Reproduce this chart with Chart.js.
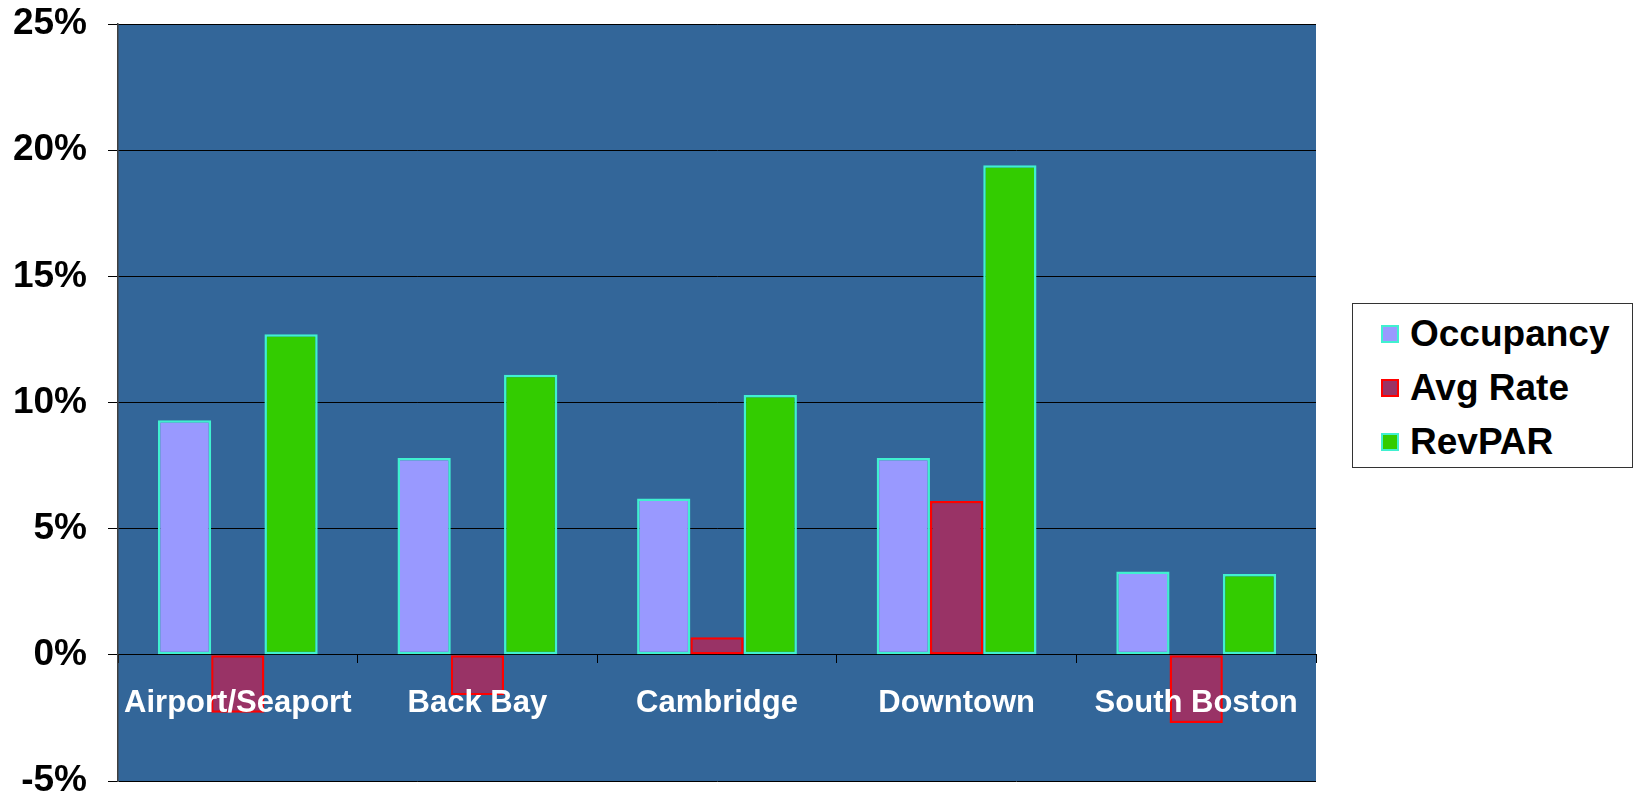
<!DOCTYPE html>
<html>
<head>
<meta charset="utf-8">
<script src="https://cdn.jsdelivr.net/npm/chart.js@4/dist/chart.umd.min.js"></script>
<style>
  body { margin: 0; background: #fff; }
  #wrap { position: relative; width: 1635px; height: 798px; }
  #legend {
    position: absolute; left: 1352px; top: 303px; width: 281px; height: 165px;
    box-sizing: border-box; border: 1.5px solid #333; background: #fff;
    padding-top: 3px;
    font-family: 'Liberation Sans', Arial, sans-serif; font-weight: bold; font-size: 37px; color: #000;
  }
  .item { display: flex; align-items: center; height: 54px; padding-left: 28px; }
  .swatch { width: 18px; height: 18px; box-sizing: border-box; border: 2px solid; margin-right: 11px; }
</style>
</head>
<body>
<div id="wrap">
  <canvas id="chart"></canvas>
  <div id="legend"></div>
</div>
<script>
const areas = ['Airport/Seaport', 'Back Bay', 'Cambridge', 'Downtown', 'South Boston'];
const occupancy = [9.3, 7.8, 6.2, 7.8, 3.3];
const avgRate = [-2.3, -1.6, 0.7, 6.1, -2.7];
const revPar = [12.7, 11.1, 10.3, 19.4, 3.2];

const fontFamily = "'Liberation Sans', Arial, sans-serif";
const edge = '#40f0d0';

const datasets = [
  { label: 'Occupancy', data: occupancy, backgroundColor: '#9999ff', borderColor: edge },
  { label: 'Avg Rate', data: avgRate, backgroundColor: '#993366', borderColor: '#ff0000' },
  { label: 'RevPAR', data: revPar, backgroundColor: '#33cc00', borderColor: edge },
];

const plotBackground = {
  id: 'plotBackground',
  beforeDraw(chart) {
    const { ctx, chartArea: a } = chart;
    ctx.save();
    ctx.fillStyle = '#336699';
    ctx.fillRect(a.left, a.top, a.right - a.left, a.bottom - a.top);
    ctx.restore();
  },
};

new Chart(document.getElementById('chart'), {
  type: 'bar',
  data: {
    labels: areas,
    datasets: datasets.map((d) => ({
      ...d,
      borderWidth: 2.5,
      borderSkipped: false,
      barPercentage: 1,
      categoryPercentage: 0.667,
    })),
  },
  options: {
    responsive: true,
    maintainAspectRatio: false,
    animation: false,
    layout: { padding: { left: 0, top: 24, right: 319, bottom: 17 } },
    plugins: {
      legend: { display: false },
      tooltip: { enabled: false },
    },
    scales: {
      x: {
        position: { y: 0 },
        afterFit: (scale) => { scale.height = 0; },
        grid: { display: true, drawOnChartArea: false, offset: true, color: '#000', tickLength: 8 },
        border: { display: true, color: '#000', width: 1 },
        ticks: {
          z: 1, // labels sit on top of the bars, as in the original
          color: '#fff',
          padding: 22,
          maxRotation: 0,
          autoSkip: false,
          font: { family: fontFamily, size: 31, weight: 'bold' },
        },
      },
      y: {
        min: -5,
        max: 25,
        afterFit: (scale) => {
          scale.width = 118;
          scale.paddingTop = 0;
          scale.paddingBottom = 0;
        },
        grid: { color: '#000', lineWidth: 1, tickLength: 10 },
        border: { display: true, color: '#404040', width: 1.5 },
        ticks: {
          stepSize: 5,
          color: '#000',
          padding: 21,
          font: { family: fontFamily, size: 37, weight: 'bold' },
          callback: (v) => v + '%',
        },
      },
    },
  },
  plugins: [plotBackground],
});

const legendEl = document.getElementById('legend');
datasets.forEach((d) => {
  const item = document.createElement('div');
  item.className = 'item';
  const swatch = document.createElement('span');
  swatch.className = 'swatch';
  swatch.style.background = d.backgroundColor;
  swatch.style.borderColor = d.borderColor;
  const text = document.createElement('span');
  text.textContent = d.label;
  item.append(swatch, text);
  legendEl.appendChild(item);
});
</script>
</body>
</html>
